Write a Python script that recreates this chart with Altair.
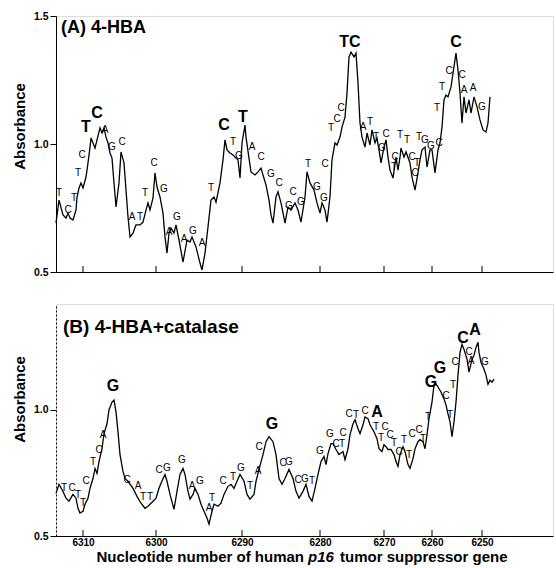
import altair as alt
import pandas as pd

FONT = "Liberation Sans"

# x positions are migration distance along the scanned lane (arbitrary units)
TICK_POS = [27, 100, 186, 264, 328, 376, 426]
TICK_LABELS = ["6310", "6300", "6290", "6280", "6270", "6260", "6250"]

# ---------------- Panel A: 4-HBA trace ----------------
A_X = [0, 3, 7, 10, 12, 14, 17, 20, 21, 23,
       25, 27, 30, 32, 34, 35, 37, 39, 41, 44,
       46, 48, 50, 52, 54, 56, 58, 60, 63, 65,
       68, 70, 72, 74, 77, 80, 84, 87, 90, 92,
       94, 97, 99, 101, 104, 107, 109, 111, 113, 115,
       118, 120, 123, 127, 131, 134, 136, 140, 144, 146,
       149, 152, 155, 158, 160, 164, 167, 169, 171, 174,
       177, 180, 182, 184, 186, 189, 190, 193, 195, 199,
       202, 205, 207, 210, 213, 215, 217, 220, 222, 225,
       229, 232, 235, 239, 242, 245, 249, 251, 254, 258,
       261, 264, 266, 269, 271, 274, 276, 279, 281, 284,
       286, 289, 291, 293, 295, 298, 300, 302, 304, 306,
       309, 311, 314, 316, 319, 321, 323, 325, 328, 330,
       332, 334, 337, 340, 342, 344, 345, 348, 350, 354,
       356, 359, 362, 364, 366, 369, 371, 374, 376, 379,
       382, 384, 386, 388, 390, 392, 395, 397, 400, 402,
       404, 406, 408, 410, 413, 415, 418, 421, 424, 427,
       430, 432, 434]
A_Y = [0.691, 0.781, 0.723, 0.711, 0.730, 0.711, 0.703, 0.742, 0.793, 0.828,
       0.848, 0.828, 0.871, 0.926, 0.988, 1.023, 1.004, 0.984, 1.016, 1.063,
       1.043, 1.063, 1.027, 1.004, 0.965, 0.945, 0.848, 0.754, 0.848, 0.969,
       0.926, 0.820, 0.715, 0.637, 0.652, 0.684, 0.684, 0.695, 0.742, 0.770,
       0.742, 0.789, 0.887, 0.832, 0.793, 0.730, 0.637, 0.574, 0.652, 0.672,
       0.652, 0.684, 0.625, 0.539, 0.625, 0.617, 0.637, 0.598, 0.535, 0.508,
       0.574, 0.676, 0.781, 0.793, 0.773, 0.848, 0.938, 1.016, 0.977, 0.965,
       0.957, 0.945, 0.938, 0.867, 1.004, 1.074, 1.027, 0.945, 0.891, 0.879,
       0.891, 0.906, 0.879, 0.840, 0.781, 0.723, 0.691, 0.793, 0.813, 0.770,
       0.691, 0.754, 0.742, 0.770, 0.742, 0.695, 0.793, 0.891, 0.848, 0.820,
       0.770, 0.730, 0.770, 0.742, 0.695, 0.793, 0.938, 1.004, 0.996, 1.027,
       1.066, 1.105, 1.199, 1.340, 1.359, 1.340, 1.355, 1.238, 1.082, 1.027,
       0.988, 1.043, 0.996, 1.055, 1.004, 1.023, 0.977, 0.926, 0.988, 1.016,
       0.949, 0.898, 0.867, 0.949, 0.898, 0.949, 0.984, 0.949, 0.969, 0.926,
       0.871, 0.820, 0.887, 0.938, 0.977, 0.988, 0.910, 0.977, 0.977, 0.887,
       0.977, 1.004, 1.066, 1.172, 1.191, 1.184, 1.223, 1.277, 1.355, 1.289,
       1.199, 1.082, 1.184, 1.121, 1.172, 1.121, 1.184, 1.145, 1.094, 1.055,
       1.047, 1.082, 1.184]

A_SX = [3, 12, 18, 22, 26, 49, 56, 66, 76, 84,
        89, 98, 108, 113, 121, 128, 137, 146, 155, 177,
        183, 196, 205, 215, 223, 233, 237, 245, 252, 261,
        268, 269, 275, 281, 285, 307, 314, 320, 326, 330,
        338, 339, 344, 351, 356, 359, 361, 363, 369, 375,
        381, 383, 386, 393, 406, 408, 417, 426]
A_ST = ["T", "C", "T", "T", "C", "A", "G", "C", "A", "T",
        "T", "C", "G", "A", "G", "A", "G", "A", "T", "T",
        "G", "A", "C", "G", "C", "G", "C", "G", "T", "G",
        "G", "C", "T", "C", "C", "A", "T", "T", "G", "C",
        "T", "C", "T", "T", "C", "C", "T", "T", "G", "G",
        "T", "C", "T", "C", "C", "A", "A", "G"]
A_SY = [0.809, 0.742, 0.789, 0.887, 0.957, 1.055, 0.988, 1.008, 0.715, 0.715,
        0.809, 0.926, 0.824, 0.656, 0.715, 0.629, 0.660, 0.613, 0.828, 1.008,
        0.953, 0.988, 0.949, 0.883, 0.848, 0.758, 0.813, 0.773, 0.922, 0.832,
        0.789, 0.922, 1.063, 1.098, 1.141, 1.066, 1.086, 1.027, 0.984, 1.039,
        0.910, 0.949, 1.035, 1.016, 0.949, 0.887, 0.926, 1.027, 1.016, 0.992,
        1.141, 1.004, 1.223, 1.285, 1.270, 1.211, 1.219, 1.145]

A_BX = [30, 41, 168, 187, 294, 400]
A_BT = ["T", "C", "C", "T", "TC", "C"]
A_BY = [1.066, 1.121, 1.074, 1.105, 1.398, 1.398]

# ---------------- Panel B: 4-HBA + catalase trace ----------------
B_X = [0, 3, 7, 10, 13, 17, 20, 22, 24, 27,
       29, 32, 34, 37, 39, 41, 43, 46, 48, 51,
       53, 56, 58, 60, 62, 64, 67, 69, 72, 77,
       81, 85, 89, 92, 97, 100, 103, 107, 109, 111,
       114, 118, 121, 124, 127, 129, 132, 134, 137, 139,
       142, 145, 148, 151, 153, 156, 158, 162, 165, 168,
       172, 175, 178, 181, 184, 188, 191, 194, 198, 200,
       203, 207, 210, 213, 217, 220, 223, 226, 229, 233,
       237, 240, 243, 247, 250, 253, 256, 259, 262, 265,
       268, 270, 272, 275, 277, 280, 283, 287, 289, 292,
       294, 297, 299, 302, 304, 307, 309, 312, 314, 318,
       321, 323, 326, 328, 330, 332, 335, 338, 340, 342,
       344, 347, 349, 352, 354, 357, 359, 362, 364, 367,
       369, 371, 373, 376, 378, 379, 382, 385, 388, 390,
       392, 394, 396, 398, 400, 402, 404, 406, 408, 411,
       413, 416, 418, 420, 422, 423, 425, 428, 430, 432,
       434, 436, 438]
B_Y = [0.669, 0.705, 0.677, 0.650, 0.638, 0.665, 0.650, 0.610, 0.591, 0.598,
       0.626, 0.650, 0.689, 0.728, 0.768, 0.748, 0.795, 0.846, 0.906, 0.945,
       1.000, 1.031, 1.039, 0.992, 0.913, 0.823, 0.756, 0.728, 0.717, 0.689,
       0.657, 0.630, 0.610, 0.618, 0.638, 0.650, 0.689, 0.728, 0.744, 0.717,
       0.665, 0.606, 0.677, 0.744, 0.768, 0.744, 0.677, 0.646, 0.665, 0.689,
       0.665, 0.626, 0.598, 0.571, 0.547, 0.598, 0.626, 0.618, 0.630, 0.665,
       0.697, 0.705, 0.689, 0.717, 0.744, 0.717, 0.665, 0.646, 0.665, 0.717,
       0.764, 0.823, 0.874, 0.894, 0.874, 0.823, 0.728, 0.705, 0.728, 0.764,
       0.728, 0.677, 0.650, 0.677, 0.705, 0.657, 0.638, 0.689, 0.744, 0.795,
       0.815, 0.783, 0.827, 0.866, 0.866, 0.843, 0.823, 0.835, 0.803, 0.846,
       0.902, 0.945, 0.961, 0.925, 0.906, 0.941, 0.972, 0.965, 0.941, 0.913,
       0.886, 0.846, 0.835, 0.862, 0.854, 0.843, 0.843, 0.823, 0.795, 0.776,
       0.823, 0.854, 0.835, 0.783, 0.768, 0.807, 0.846, 0.874, 0.882, 0.874,
       0.846, 0.902, 0.965, 1.031, 1.098, 1.110, 1.091, 1.071, 1.043, 1.020,
       0.984, 0.953, 0.894, 0.953, 1.031, 1.138, 1.228, 1.260, 1.240, 1.201,
       1.150, 1.201, 1.217, 1.248, 1.268, 1.228, 1.189, 1.161, 1.138, 1.102,
       1.118, 1.110, 1.122]

B_SX = [8, 16, 22, 27, 30, 37, 43, 47, 71, 82,
        87, 94, 103, 111, 126, 136, 144, 153, 156, 167,
        177, 185, 194, 202, 203, 227, 233, 242, 249, 256,
        264, 274, 280, 286, 287, 293, 300, 309, 320, 325,
        329, 334, 338, 343, 348, 353, 356, 363, 367, 372,
        390, 394, 397, 399, 413, 415, 429]
B_ST = ["T", "C", "T", "T", "C", "T", "C", "A", "C", "A",
        "T", "T", "C", "G", "G", "A", "G", "A", "T", "C",
        "T", "G", "T", "A", "C", "C", "G", "C", "G", "T",
        "G", "G", "C", "T", "C", "C", "T", "C", "T", "T",
        "C", "C", "T", "C", "T", "T", "C", "C", "T", "T",
        "C", "T", "T", "C", "C", "A", "G"]
B_SY = [0.689, 0.689, 0.661, 0.630, 0.717, 0.795, 0.843, 0.902, 0.724, 0.697,
        0.654, 0.654, 0.760, 0.768, 0.803, 0.697, 0.717, 0.610, 0.650, 0.717,
        0.732, 0.768, 0.697, 0.756, 0.854, 0.791, 0.795, 0.724, 0.728, 0.720,
        0.839, 0.906, 0.866, 0.866, 0.909, 0.984, 0.980, 0.996, 0.932, 0.888,
        0.933, 0.902, 0.870, 0.835, 0.882, 0.823, 0.906, 0.921, 0.886, 0.972,
        1.055, 0.980, 1.098, 1.189, 1.228, 1.195, 1.189]

B_BX = [57, 216, 321, 375, 384, 407, 419]
B_BT = ["G", "G", "A", "G", "G", "C", "A"]
B_BY = [1.094, 0.945, 0.992, 1.110, 1.165, 1.285, 1.315]

TITLE_A = "(A) 4-HBA"
TITLE_B = "(B) 4-HBA+catalase"
X_TITLE_PARTS = ["Nucleotide number of human", "p16", "tumor suppressor gene"]
X_TITLE_STYLE = ["normal", "italic", "normal"]
Y_TITLE = "Absorbance"

W = 497
HA = 256
HB = 232
XMAX = 497


def label_expr():
    expr = "''"
    for p, l in zip(TICK_POS, TICK_LABELS):
        expr = f"datum.value == {p} ? '{l}' : ({expr})"
    return expr


def panel(tx, ty, sx, st, sy, bx, bt, by, title, ydom, yvals, h, show_x, dashed,
          title_x, title_y, title_size, ytitle_y):
    xscale = alt.Scale(domain=[0, XMAX], nice=False, zero=False)
    yscale = alt.Scale(domain=ydom, nice=False, zero=False)
    if show_x:
        xaxis = alt.Axis(values=TICK_POS, labelExpr=label_expr(), ticks=False, grid=False,
                         domainColor="black", labelColor="black", labelFont=FONT,
                         labelFontSize=10, labelFontWeight="bold", labelPadding=1,
                         title=None)
    else:
        xaxis = alt.Axis(values=TICK_POS, labels=False, ticks=False, grid=False,
                         domainColor="black", title=None)
    ykw = dict(values=yvals, format=".1f", grid=False, domainColor="black",
               tickColor="black", tickSize=6, labelColor="black", labelFont=FONT,
               labelFontSize=10.5, labelFontWeight="bold", labelPadding=2,
               title=Y_TITLE, titleFont=FONT, titleFontSize=15, titleFontWeight="bold",
               titleColor="black", titlePadding=6, titleY=ytitle_y)
    if dashed:
        ykw["domainDash"] = [2, 2]
    yaxis = alt.Axis(**ykw)

    trace = pd.DataFrame({"x": tx, "y": ty})
    line = alt.Chart(trace).mark_line(color="black", strokeWidth=1.3).encode(
        x=alt.X("x:Q", scale=xscale, axis=xaxis),
        y=alt.Y("y:Q", scale=yscale, axis=yaxis),
    )
    small = alt.Chart(pd.DataFrame({"x": sx, "y": sy, "t": st})).mark_text(
        font=FONT, fontSize=10, color="black", baseline="middle", align="center"
    ).encode(x=alt.X("x:Q", scale=xscale), y=alt.Y("y:Q", scale=yscale), text="t:N")
    big = alt.Chart(pd.DataFrame({"x": bx, "y": by, "t": bt})).mark_text(
        font=FONT, fontSize=16, fontWeight="bold", color="black", baseline="middle", align="center"
    ).encode(x=alt.X("x:Q", scale=xscale), y=alt.Y("y:Q", scale=yscale), text="t:N")
    ticks = alt.Chart(pd.DataFrame({"p": TICK_POS})).mark_rule(color="black", strokeWidth=1).encode(
        x=alt.X("p:Q", scale=xscale), y=alt.value(h), y2=alt.value(h - 6)
    )
    ttl = alt.Chart(pd.DataFrame({"t": [title]})).mark_text(
        font=FONT, fontSize=title_size, fontWeight="bold", color="black", align="left",
        baseline="middle"
    ).encode(x=alt.value(title_x), y=alt.value(title_y), text="t:N")
    layers = [line, small, big, ticks, ttl]
    if show_x:
        # axis title built from three pieces so that "p16" can be italic
        ty_ = h + 21
        xt1 = alt.Chart(pd.DataFrame({"t": [X_TITLE_PARTS[0]]})).mark_text(
            font=FONT, fontSize=15, fontWeight="bold", fontStyle=X_TITLE_STYLE[0],
            color="black", align="right", baseline="middle"
        ).encode(x=alt.value(248), y=alt.value(ty_), text="t:N")
        xt2 = alt.Chart(pd.DataFrame({"t": [X_TITLE_PARTS[1]]})).mark_text(
            font=FONT, fontSize=15, fontWeight="bold", fontStyle=X_TITLE_STYLE[1],
            color="black", align="left", baseline="middle"
        ).encode(x=alt.value(252), y=alt.value(ty_), text="t:N")
        xt3 = alt.Chart(pd.DataFrame({"t": [X_TITLE_PARTS[2]]})).mark_text(
            font=FONT, fontSize=15, fontWeight="bold", fontStyle=X_TITLE_STYLE[2],
            color="black", align="left", baseline="middle"
        ).encode(x=alt.value(284), y=alt.value(ty_), text="t:N")
        layers += [xt1, xt2, xt3]
    return alt.layer(*layers).properties(width=W, height=h)


pa = panel(A_X, A_Y, A_SX, A_ST, A_SY, A_BX, A_BT, A_BY, TITLE_A,
           [0.5, 1.5], [0.5, 1.0, 1.5], HA, False, False, 5, 12, 18, 110)
pb = panel(B_X, B_Y, B_SX, B_ST, B_SY, B_BX, B_BT, B_BY, TITLE_B,
           [0.5, 1.42], [0.5, 1.0], HB, True, True, 7, 23, 19, 95)

chart = alt.vconcat(pa, pb, spacing=25).properties(
    padding={"left": 11, "top": 10, "right": 0, "bottom": 2}
).configure_view(stroke=None).configure(background="white")

chart.save("out.html", embed_options={"renderer": "svg", "actions": False})
